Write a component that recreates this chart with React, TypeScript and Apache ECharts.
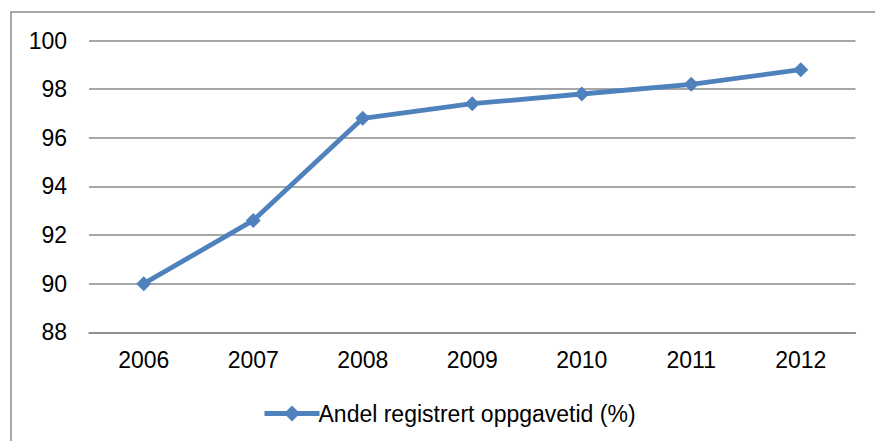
import React, { useEffect, useRef } from "react";
import * as echarts from "echarts";

const categories = ["2006", "2007", "2008", "2009", "2010", "2011", "2012"];
const values = [90.0, 92.6, 96.8, 97.4, 97.8, 98.2, 98.8];
const seriesName = "Andel registrert oppgavetid (%)";

export default function App() {
  const ref = useRef<HTMLDivElement>(null);
  useEffect(() => {
    document.body.style.margin = "0";
    const chart = echarts.init(ref.current!, null, { renderer: "svg" });
    const font = "'Liberation Sans', Arial, sans-serif";
    const fs = 23;
    chart.setOption({
      animation: false,
      backgroundColor: "#ffffff",
      textStyle: { fontFamily: font },
      graphic: [
        {
          type: "rect",
          shape: { x: 11, y: 12, width: 900, height: 460 },
          style: { fill: "none", stroke: "#8a8a8a", lineWidth: 1.5 },
          silent: true,
        },
      ],
      grid: { left: 89, right: 19.5, top: 40.5, bottom: 108.7 },
      xAxis: {
        type: "category",
        data: categories,
        boundaryGap: true,
        axisLine: { show: true, lineStyle: { color: "#8a8a8a", width: 1.5 } },
        axisTick: { show: false },
        axisLabel: { color: "#000", fontSize: fs, fontFamily: font, margin: 16 },
      },
      yAxis: {
        type: "value",
        min: 88,
        max: 100,
        interval: 2,
        axisLine: { show: false },
        axisTick: { show: false },
        splitLine: { lineStyle: { color: "#8a8a8a", width: 1.5 } },
        axisLabel: { color: "#000", fontSize: fs, fontFamily: font, margin: 22 },
      },
      legend: {
        left: 257,
        top: 397,
        itemWidth: 55,
        itemHeight: 20,
        itemGap: 10,
        lineStyle: { width: 5, color: "#4f81bd" },
        textStyle: { color: "#000", fontSize: fs, fontFamily: font, padding: [0, 0, 0, -6] },
        data: [seriesName],
      },
      series: [
        {
          name: seriesName,
          type: "line",
          data: values,
          symbol: "diamond",
          symbolSize: 15,
          lineStyle: { color: "#4f81bd", width: 4.8 },
          itemStyle: { color: "#4f81bd" },
        },
      ],
    });
    return () => chart.dispose();
  }, []);
  return <div ref={ref} style={{ width: 875, height: 441 }} />;
}
